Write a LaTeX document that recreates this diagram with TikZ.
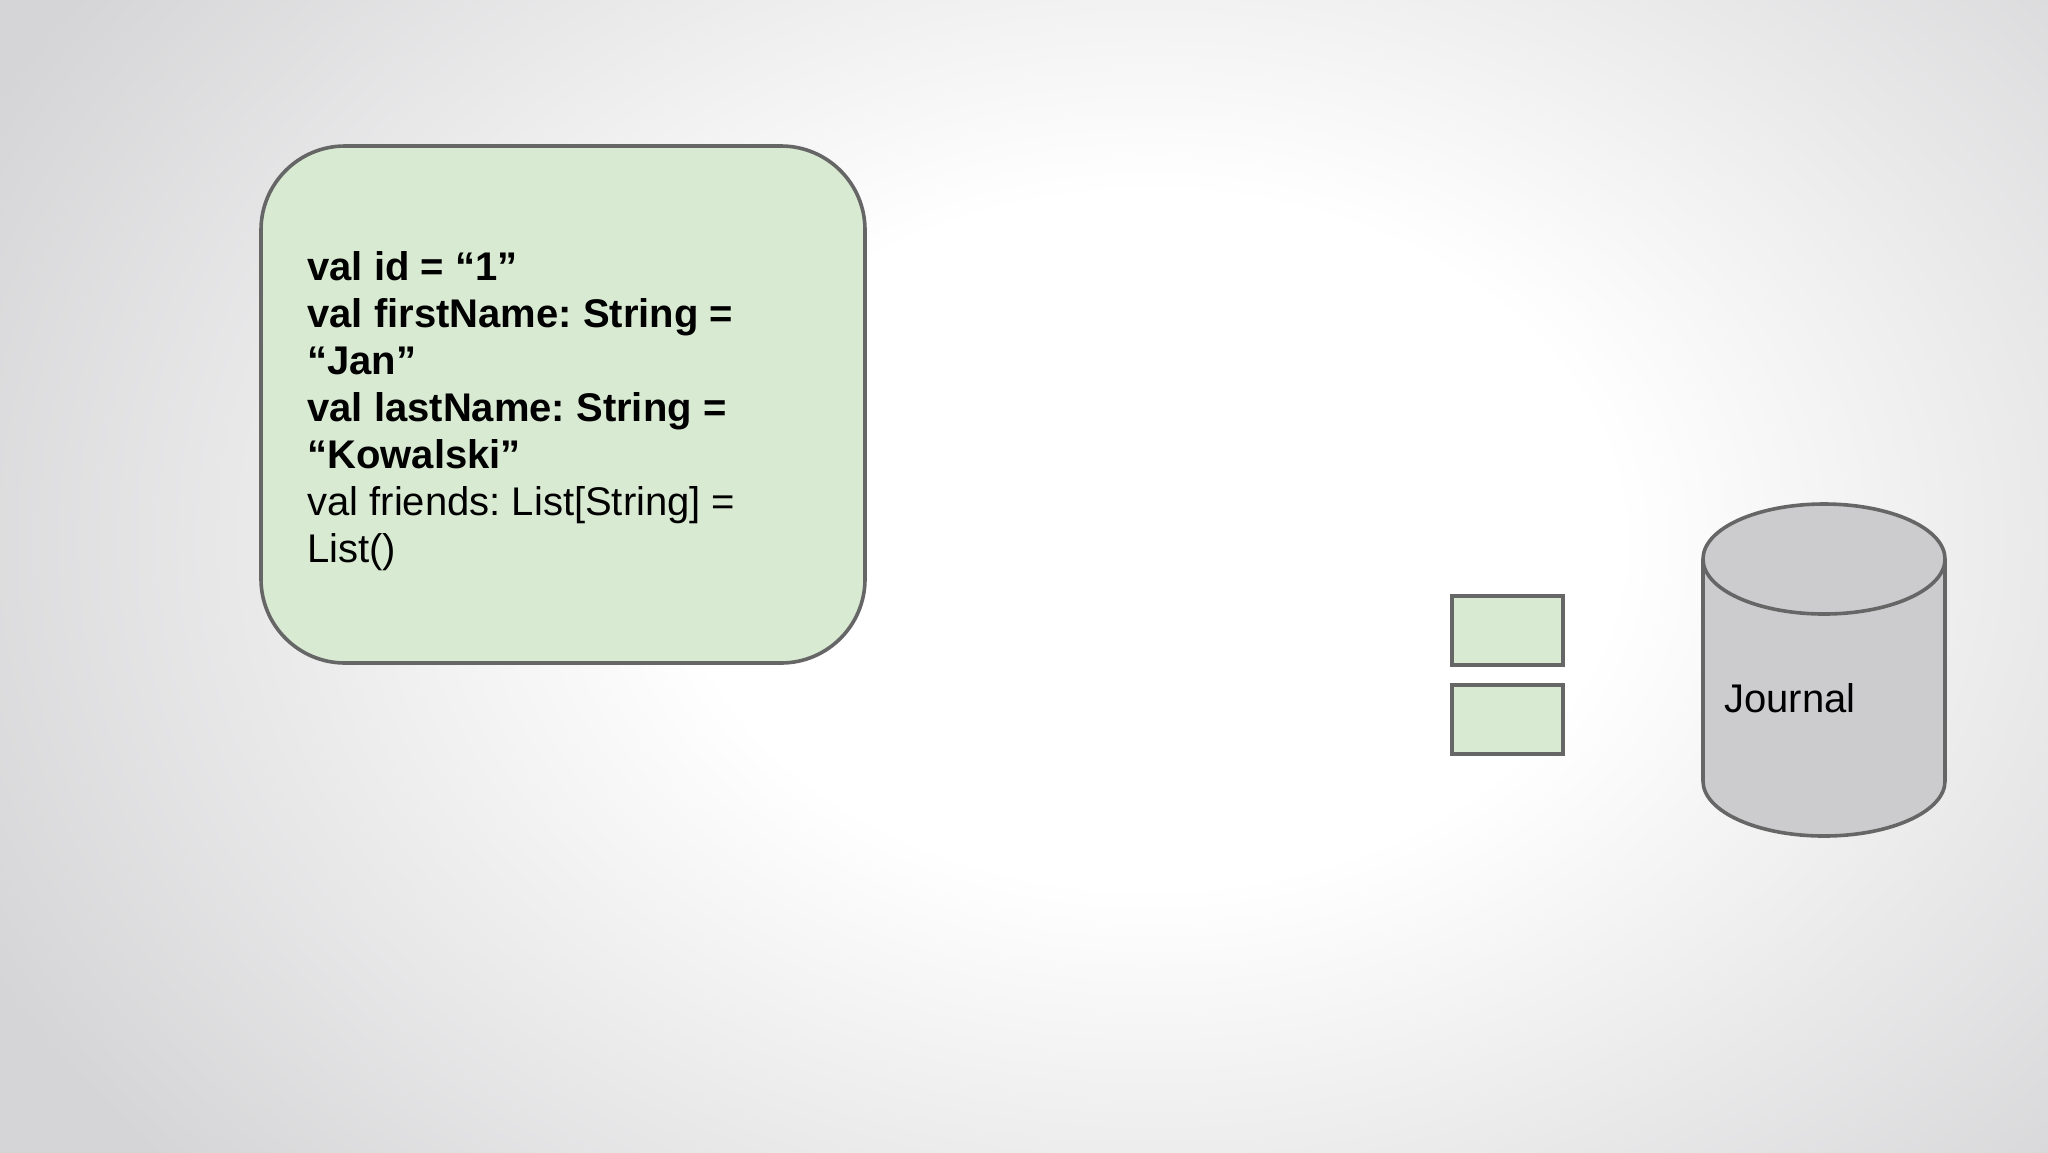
\documentclass[tikz,border=0pt]{standalone}
\usepackage{fontspec}
\setmainfont{Liberation Sans}
\frenchspacing
\definecolor{bggray}{HTML}{D5D5D7}
\definecolor{boxgreen}{HTML}{D9EAD3}
\definecolor{edgegray}{HTML}{666666}
\definecolor{cylgray}{HTML}{CCCBCE}
\pgfdeclareradialshading{bgshade}{\pgfpoint{0bp}{0bp}}{color(0bp)=(white); color(9bp)=(white); color(25bp)=(bggray); color(50bp)=(bggray)}
\begin{document}
\begin{tikzpicture}[x=0.5pt,y=-0.5pt,
  edge/.style={draw=edgegray, line width=1.8pt},
  greenbox/.style={edge, fill=boxgreen},
  txt/.style={inner sep=0pt, font=\fontsize{20}{23.5}\selectfont, text=black}]
\useasboundingbox (0,0) rectangle (2048,1152);
\begin{scope}
\clip (0,0) rectangle (2048,1152);
\shade[shading=bgshade] (-150,-420) rectangle (2450,1500);
\end{scope}
\node[greenbox, rounded corners=42pt, minimum width=302pt, minimum height=258.5pt] (obj) at (563,404.5) {};
\node[txt, anchor=base west, align=left] (code) at (307,562)
  {\textbf{val id = “1”}\\
   \textbf{val firstName: String =}\\
   \textbf{“Jan”}\\
   \textbf{val lastName: String =}\\
   \textbf{“Kowalski”}\\
   val friends: List[String] =\\
   List()};
\node[greenbox, minimum width=55.5pt, minimum height=34.5pt] (ev1) at (1507.5,630.5) {};
\node[greenbox, minimum width=55.5pt, minimum height=34.5pt] (ev2) at (1507.5,719.5) {};
% cylinder
\fill[cylgray] (1703,559) rectangle (1945,781);
\fill[cylgray] (1824,781) ellipse [x radius=60.5pt, y radius=27.5pt];
\draw[edge] (1703,559) -- (1703,781) arc[start angle=180, end angle=360, x radius=60.5pt, y radius=27.5pt] -- (1945,559);
\draw[edge, fill=cylgray] (1824,559) ellipse [x radius=60.5pt, y radius=27.5pt];
\node[txt, anchor=base west] (journal) at (1724,712) {Journal};
\end{tikzpicture}
\end{document}
